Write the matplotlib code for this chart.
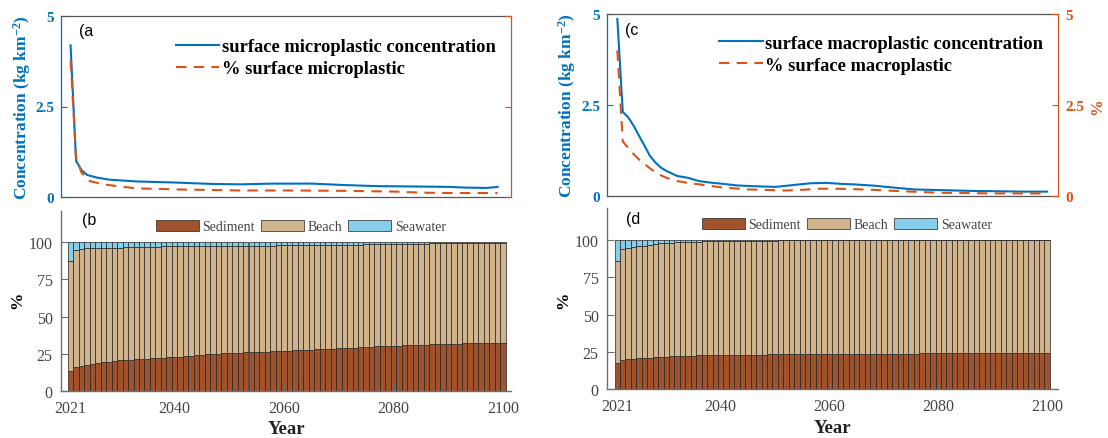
import matplotlib
matplotlib.use('Agg')
import matplotlib.pyplot as plt
import numpy as np

# ---------------- data ----------------
years = np.arange(2021, 2101)

# panel (a): microplastic
micro_conc_years = [2021, 2022, 2023, 2024, 2025.7, 2028, 2033, 2040, 2047, 2052, 2058, 2065, 2071, 2077, 2084, 2090, 2093, 2097, 2099]
micro_conc = [4.19, 1.00, 0.74, 0.61, 0.54, 0.48, 0.43, 0.40, 0.36, 0.35, 0.37, 0.37, 0.33, 0.30, 0.29, 0.28, 0.26, 0.25, 0.28]
micro_pct_years = [2021, 2022, 2023, 2024.5, 2027, 2030, 2033, 2040, 2052, 2062, 2071, 2080, 2085, 2090, 2099]
micro_pct = [3.77, 1.10, 0.67, 0.44, 0.35, 0.29, 0.24, 0.21, 0.18, 0.18, 0.17, 0.15, 0.12, 0.11, 0.11]

# panel (c): macroplastic
macro_conc_years = [2021, 2022, 2023, 2024, 2025, 2026, 2027, 2028, 2029, 2030, 2032, 2034, 2036, 2038, 2040, 2043, 2046,
                    2050, 2052, 2054.5, 2056.5, 2059.5, 2062.5, 2064.5, 2068.5, 2070.5, 2075.5, 2081, 2086, 2091, 2096, 2100]
macro_conc = [4.86, 2.31, 2.16, 1.93, 1.65, 1.38, 1.10, 0.92, 0.78, 0.69, 0.55, 0.50, 0.41, 0.37, 0.34, 0.29, 0.27,
              0.25, 0.28, 0.32, 0.35, 0.36, 0.33, 0.32, 0.28, 0.25, 0.18, 0.16, 0.14, 0.13, 0.12, 0.12]
macro_pct_years = [2021, 2022, 2023, 2024, 2025, 2026, 2027, 2028, 2029, 2030, 2032, 2034, 2036, 2038, 2040, 2045,
                   2050, 2052, 2055, 2058, 2061, 2064, 2068, 2072, 2080, 2090, 2100]
macro_pct = [4.00, 1.50, 1.32, 1.15, 1.00, 0.88, 0.76, 0.65, 0.57, 0.50, 0.41, 0.36, 0.32, 0.28, 0.24, 0.18,
             0.16, 0.15, 0.17, 0.20, 0.20, 0.19, 0.17, 0.14, 0.09, 0.07, 0.07]

# panel (b): microplastic distribution (%), 2021-2100
micro_sediment = [13.4, 16.0, 17.1, 17.8, 18.3, 18.9, 19.4, 19.9, 20.3, 20.7,
                  20.9, 21.2, 21.4, 21.6, 21.8, 22.1, 22.3, 22.5, 22.7, 22.9,
                  23.2, 23.5, 23.8, 24.1, 24.5, 24.7, 24.9, 25.2, 25.4, 25.6,
                  25.8, 25.9, 26.0, 26.2, 26.3, 26.5, 26.6, 26.7, 26.9, 27.0,
                  27.2, 27.4, 27.6, 27.8, 28.0, 28.1, 28.3, 28.4, 28.6, 28.7,
                  28.9, 29.1, 29.3, 29.6, 29.8, 29.9, 30.1, 30.2, 30.4, 30.5,
                  30.6, 30.8, 30.9, 31.0, 31.2, 31.3, 31.4, 31.5, 31.7, 31.8,
                  31.9, 32.0, 32.1, 32.2, 32.3, 32.3, 32.3, 32.3, 32.3, 32.3]
micro_seawater = [12.8, 5.3, 4.5, 4.1, 4.0, 4.0, 3.9, 3.8, 3.7, 3.7,
                  3.3, 3.2, 3.1, 3.1, 3.0, 3.0, 3.0, 2.9, 2.9, 2.9,
                  2.9, 2.8, 2.8, 2.8, 2.4, 2.4, 2.4, 2.4, 2.4, 2.4,
                  2.4, 2.4, 2.4, 2.4, 2.4, 2.4, 2.4, 2.4, 1.8, 1.8,
                  1.8, 1.8, 1.8, 1.8, 1.8, 1.8, 1.8, 1.8, 1.8, 1.8,
                  1.8, 1.8, 1.8, 1.8, 1.6, 1.6, 1.6, 1.6, 1.6, 1.6,
                  1.6, 1.6, 1.6, 1.6, 1.6, 1.6, 0.9, 0.9, 0.9, 0.9,
                  0.9, 0.9, 0.9, 0.9, 0.9, 0.9, 0.9, 0.9, 0.9, 0.9]

# panel (d): macroplastic distribution (%), 2021-2100
macro_sediment = [17.6, 19.4, 20.3, 20.5, 20.8, 21.0, 21.0, 21.4, 21.4, 21.4,
                  22.1, 22.1, 22.1, 22.1, 22.1, 22.8, 22.8, 22.8, 22.8, 22.8,
                  22.8, 22.8, 23.2, 23.2, 23.2, 23.2, 23.2, 23.2, 23.7, 23.7,
                  23.7, 23.7, 23.7, 23.7, 23.7, 23.7, 23.7, 23.7, 23.7, 23.7,
                  23.7, 23.7, 23.7, 23.7, 23.7, 23.7, 23.7, 23.7, 23.7, 23.7,
                  23.7, 23.7, 23.7, 23.7, 23.7, 23.7, 24.1, 24.1, 24.1, 24.1,
                  24.1, 24.1, 24.1, 24.1, 24.1, 24.1, 24.1, 24.1, 24.1, 24.1,
                  24.1, 24.1, 24.1, 24.1, 24.1, 24.1, 24.1, 24.1, 24.1, 24.1]
macro_seawater = [13.9, 6.5, 5.4, 4.7, 4.3, 4.0, 3.6, 3.1, 2.5, 2.5,
                  2.5, 1.8, 1.8, 1.8, 1.8, 1.8, 1.1, 1.1, 1.1, 1.1,
                  1.1, 1.1, 1.1, 0.7, 0.7, 0.7, 0.7, 0.7, 0.7, 0.7,
                  0.4, 0.4, 0.4, 0.4, 0.4, 0.4, 0.4, 0.4, 0.4, 0.4,
                  0.4, 0.4, 0.4, 0.4, 0.4, 0.4, 0.4, 0.4, 0.4, 0.4,
                  0.4, 0.4, 0.4, 0.4, 0.4, 0.4, 0.4, 0.4, 0.4, 0.4,
                  0.2, 0.2, 0.2, 0.2, 0.2, 0.2, 0.2, 0.2, 0.2, 0.2,
                  0.2, 0.2, 0.2, 0.2, 0.2, 0.2, 0.2, 0.2, 0.2, 0.2]

year_ticks = [2021, 2040, 2060, 2080, 2100]
pct_ticks = [0, 25, 50, 75, 100]
conc_ticks = [0, 2.5, 5]
conc_ticklabels = ['0', '2.5', '5']

# ---------------- style ----------------
plt.rcParams['font.family'] = ['Liberation Serif', 'DejaVu Serif']
plt.rcParams['mathtext.fontset'] = 'custom'
plt.rcParams['mathtext.rm'] = 'Liberation Serif'
plt.rcParams['mathtext.bf'] = 'Liberation Serif:bold'
plt.rcParams['mathtext.it'] = 'Liberation Serif:italic'

BLUE = '#0072BD'
ORANGE = '#D95319'
SED = '#A0522D'
BEACH = '#D2B48C'
SEA = '#87CEEB'
GRAY_TXT = '#444444'
SPINE = '#6e6e6e'

fig = plt.figure(figsize=(11.08, 4.39), dpi=100)

lab_y_conc = r'Concentration (kg km$^{\mathbf{-2}}$)'


def top_panel(rect, xlim, xc, yc, xp, yp, lab_conc, lab_pct, tag, show_right, leg_xy, hl, htp, ylab_x):
    ax = fig.add_axes(rect)
    ax2 = ax.twinx()
    l1, = ax.plot(xc, yc, color=BLUE, lw=1.5, label=lab_conc)
    l2, = ax2.plot(xp, yp, color=ORANGE, lw=1.5, ls=(0, (5, 3.5)), label=lab_pct)
    ax.set_xlim(*xlim)
    ax.set_ylim(0, 5)
    ax2.set_ylim(0, 5)
    ax.set_xticks([])
    ax.set_yticks(conc_ticks)
    ax.set_yticklabels(conc_ticklabels, fontsize=11, fontweight='bold', color=BLUE)
    ax.tick_params(axis='y', direction='in', length=4, width=0.8, color=BLUE, pad=5)
    ax2.set_yticks(conc_ticks)
    if show_right:
        ax2.set_yticklabels(conc_ticklabels, fontsize=11, fontweight='bold', color=ORANGE)
        ax2.set_ylabel('%', fontsize=12, fontweight='bold', color=ORANGE, ha='center', va='center')
        ax2.yaxis.set_label_coords(1.088, 0.495)
    else:
        ax2.set_yticklabels([])
    ax2.tick_params(axis='y', direction='in', length=4, width=0.8, color=ORANGE, pad=5)
    for s in ['top', 'bottom', 'left']:
        ax2.spines[s].set_visible(False)
    ax2.spines['right'].set_color(ORANGE)
    ax2.spines['right'].set_linewidth(0.9)
    ax.spines['right'].set_visible(False)
    ax.spines['left'].set_color(BLUE)
    ax.spines['left'].set_linewidth(0.9)
    for s in ['top', 'bottom']:
        ax.spines[s].set_color('#555555')
        ax.spines[s].set_linewidth(0.9)
    ax.set_ylabel(lab_y_conc, fontsize=12.5, fontweight='bold', color=BLUE, ha='center', va='center')
    ax.yaxis.set_label_coords(ylab_x, 0.5)
    ax.text(tag[1], tag[2], tag[0], transform=ax.transAxes, fontsize=11.5,
            family='Liberation Sans', ha='left', va='center')
    ax2.legend(handles=[l1, l2], loc='upper left', bbox_to_anchor=leg_xy, frameon=False,
               borderpad=0, borderaxespad=0, handlelength=hl, handletextpad=htp,
               labelspacing=0.27, prop={'family': 'Liberation Serif', 'weight': 'bold', 'size': 13.3})
    return ax


def bottom_panel(rect, xlim, sed, sea, tag, leg_xy, ylab_x, ylab_y, xlab_y):
    ax = fig.add_axes(rect)
    sed = np.array(sed)
    sea = np.array(sea)
    beach = 100 - sed - sea
    kw = dict(width=1.0, edgecolor='#222222', linewidth=0.5)
    b1 = ax.bar(years, sed, color=SED, label='Sediment', **kw)
    b2 = ax.bar(years, beach, bottom=sed, color=BEACH, label='Beach', **kw)
    b3 = ax.bar(years, sea, bottom=sed + beach, color=SEA, label='Seawater', **kw)
    ax.set_xlim(*xlim)
    ax.set_ylim(0, 121)
    ax.set_xticks(year_ticks)
    ax.set_xticklabels([str(y) for y in year_ticks], fontsize=11.5, color=GRAY_TXT)
    ax.set_yticks(pct_ticks)
    ax.set_yticklabels([str(t) for t in pct_ticks], fontsize=11.5, color=GRAY_TXT)
    ax.tick_params(axis='both', direction='in', length=5, width=0.8, color=SPINE, pad=6)
    for s in ['top', 'right']:
        ax.spines[s].set_visible(False)
    for s in ['left', 'bottom']:
        ax.spines[s].set_color(SPINE)
        ax.spines[s].set_linewidth(1.0)
    ax.set_ylabel('%', fontsize=12.5, fontweight='bold', color='black', ha='center', va='center')
    ax.yaxis.set_label_coords(ylab_x, ylab_y)
    ax.set_xlabel('Year', fontsize=13.5, fontweight='bold', color='#222222', ha='center', va='center')
    ax.xaxis.set_label_coords(0.5, xlab_y)
    ax.text(tag[1], tag[2], tag[0], transform=ax.transAxes, fontsize=11.5,
            family='Liberation Sans', ha='left', va='center')
    leg = ax.legend(handles=[b1, b2, b3], loc='center left', bbox_to_anchor=leg_xy, ncol=3, frameon=False,
                    borderpad=0, borderaxespad=0, handlelength=3.1, handleheight=0.84,
                    handletextpad=0.25, columnspacing=0.43, fontsize=10)
    for t in leg.get_texts():
        t.set_color(GRAY_TXT)
    return ax


W, H = 1108.0, 439.0


def rect(l, r, t, b):
    return [l / W, 1 - b / H, (r - l) / W, (b - t) / H]


xlim_left = (2019.25, 2101.45)
xlim_right = (2019.1, 2102.0)

top_panel(rect(61, 511, 17, 198), xlim_left, micro_conc_years, micro_conc, micro_pct_years, micro_pct,
          'surface microplastic concentration', '% surface microplastic', ('(a', 0.040, 0.919),
          False, (0.2547, 0.877), 2.33, 0.18, -0.0873)
top_panel(rect(607, 1058, 15, 197), xlim_right, macro_conc_years, macro_conc, macro_pct_years, macro_pct,
          'surface macroplastic concentration', '% surface macroplastic', ('(c', 0.041, 0.917),
          True, (0.248, 0.886), 2.38, 0.11, -0.0885)

bottom_panel(rect(61, 511, 211.7, 392.3), xlim_left, micro_sediment, micro_seawater, ('(b', 0.046, 0.95),
             (0.211, 0.9125), -0.0967, 0.511, -0.205)
bottom_panel(rect(607, 1058, 209.3, 390.3), xlim_right, macro_sediment, macro_seawater, ('(d', 0.043, 0.941),
             (0.2105, 0.909), -0.0964, 0.499, -0.21)

fig.savefig('out.png', dpi=100)
